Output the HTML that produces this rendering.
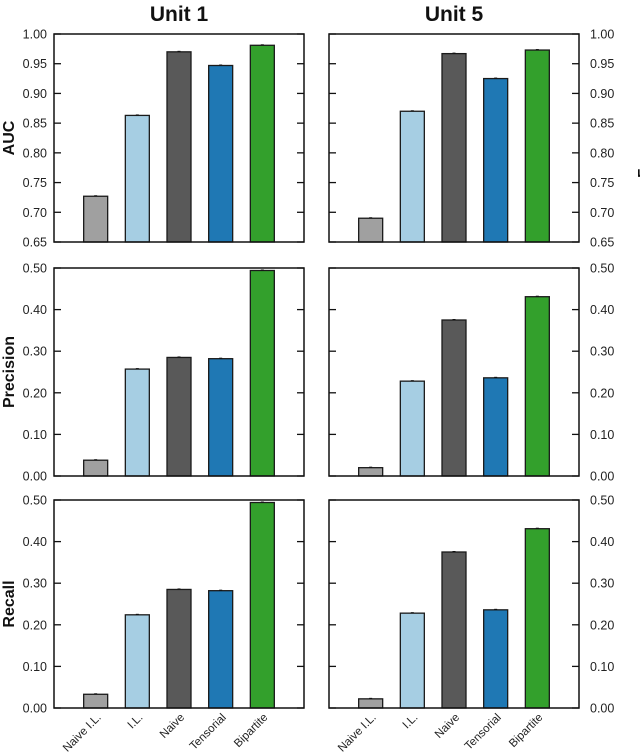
<!DOCTYPE html>
<html><head><meta charset="utf-8"><style>
body{margin:0;background:#fff;}
svg{display:block;font-family:"Liberation Sans",Arial,sans-serif;}
</style></head>
<body>
<svg id="chart" width="640" height="753" viewBox="0 0 640 753"></svg>
<script>
const categories = ["Naive I.L.", "I.L.", "Naive", "Tensorial", "Bipartite"];
const colors = ["#a0a0a0", "#a6cee3", "#595959", "#1f78b4", "#33a02c"];
const units = ["Unit 1", "Unit 5"];
const metrics = ["AUC", "Precision", "Recall"];
const aucUnit1 = [0.727, 0.863, 0.970, 0.947, 0.981];
const aucUnit5 = [0.690, 0.870, 0.967, 0.925, 0.973];
const precUnit1 = [0.038, 0.257, 0.285, 0.282, 0.494];
const precUnit5 = [0.020, 0.228, 0.375, 0.236, 0.431];
const recUnit1 = [0.033, 0.224, 0.285, 0.282, 0.494];
const recUnit5 = [0.022, 0.228, 0.375, 0.236, 0.431];
const aucTicks = [0.65, 0.70, 0.75, 0.80, 0.85, 0.90, 0.95, 1.00];
const rateTicks = [0.00, 0.10, 0.20, 0.30, 0.40, 0.50];

const NS = "http://www.w3.org/2000/svg";
const svg = document.getElementById("chart");
function mk(tag, attrs, parent) {
  const e = document.createElementNS(NS, tag);
  for (const k in attrs) e.setAttribute(k, attrs[k]);
  (parent || svg).appendChild(e);
  return e;
}
const panelX = [54, 329];
const panelW = 250;
const panelY = [34, 268, 500];
const panelH = 208;
const data = [[aucUnit1, aucUnit5], [precUnit1, precUnit5], [recUnit1, recUnit5]];
const domains = [[0.65, 1.0], [0, 0.5], [0, 0.5]];
const ticksFor = [aucTicks, rateTicks, rateTicks];

units.forEach((u, c) => {
  const t = mk("text", {x: panelX[c] + panelW / 2, y: 21, "text-anchor": "middle", "font-size": 21, "font-weight": "bold", fill: "#111"});
  t.textContent = u;
  
  
});

metrics.forEach((m, r) => {
  const cy = panelY[r] + panelH / 2;
  const t = mk("text", {x: 0, y: 0, transform: `translate(14,${cy}) rotate(-90)`, "text-anchor": "middle", "font-size": 16, "font-weight": "bold", fill: "#111"});
  t.textContent = m;
  
  
  const [d0, d1] = domains[r];
  for (let c = 0; c < 2; c++) {
    const g = mk("g", {});
    
    
    const x0 = panelX[c], y0 = panelY[r];
    const yScale = v => y0 + panelH - (v - d0) / (d1 - d0) * panelH;
    const step = panelW / 6;
    const xScale = i => x0 + step * (i + 1);
    const bw = 24;
    data[r][c].forEach((v, i) => {
      const top = yScale(Math.max(v, d0));
      const b = mk("rect", {x: xScale(i) - bw / 2, y: top, width: bw, height: y0 + panelH - top, fill: colors[i], stroke: "#1a1a1a", "stroke-width": 1.3}, g);
      
      
      mk("line", {x1: xScale(i) - 1.5, x2: xScale(i) + 1.5, y1: top - 0.5, y2: top - 0.5, stroke: "#111", "stroke-width": 1}, g);
    });
    const f = mk("rect", {x: x0, y: y0, width: panelW, height: panelH, fill: "none", stroke: "#111", "stroke-width": 1.5}, g);
    
    
    ticksFor[r].forEach(tv => {
      const ty = yScale(tv);
      mk("line", {x1: x0, x2: x0 + 7, y1: ty, y2: ty, stroke: "#111", "stroke-width": 1.3}, g);
      mk("line", {x1: x0 + panelW - 7, x2: x0 + panelW, y1: ty, y2: ty, stroke: "#111", "stroke-width": 1.3}, g);
      const lx = c === 0 ? x0 - 7 : x0 + panelW + 11;
      const lbl = mk("text", {x: lx, y: ty + 4.5, "text-anchor": c === 0 ? "end" : "start", "font-size": 12.5, fill: "#222"}, g);
      lbl.textContent = tv.toFixed(2);
      
      
    });
    if (r === 2) {
      categories.forEach((cat, i) => {
        const tx = xScale(i) + 6, ty = y0 + panelH + 10;
        const lbl = mk("text", {x: 0, y: 0, transform: `translate(${tx},${ty}) rotate(-45)`, "text-anchor": "end", "font-size": 11.5, fill: "#222"}, g);
        lbl.textContent = cat;
        
        
      });
    }
  }
});
const fr = mk("text", {x: 0, y: 0, transform: "translate(648,140) rotate(-90)", "text-anchor": "middle", "font-size": 15, "font-weight": "bold", fill: "#111"});
fr.textContent = "Frequency";


</script>
</body></html>
